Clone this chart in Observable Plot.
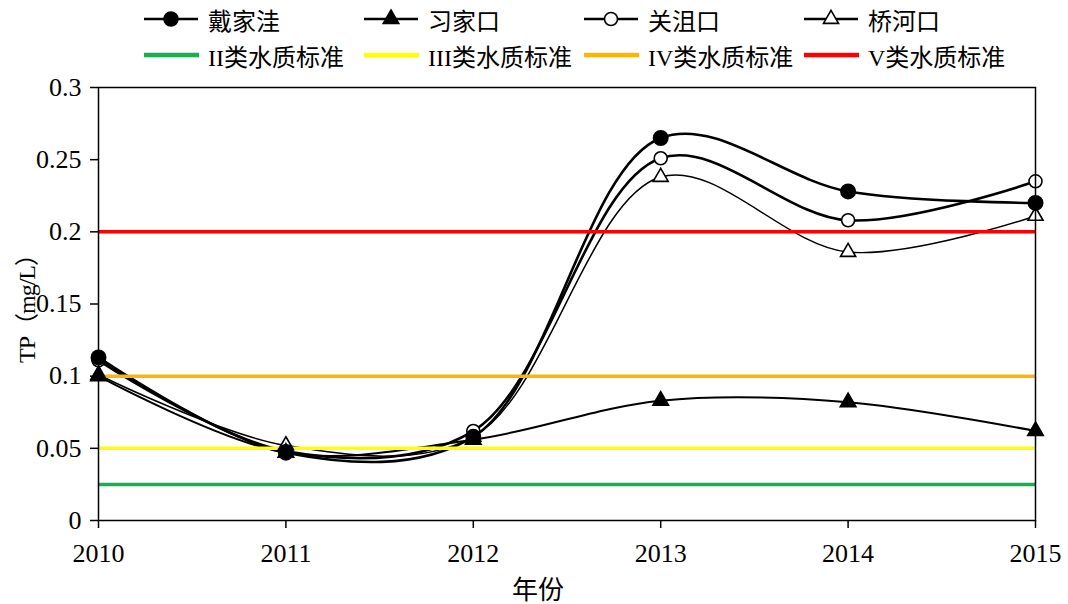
<!DOCTYPE html>
<html><head><meta charset="utf-8">
<script src="https://cdn.jsdelivr.net/npm/d3@7"></script>
<script src="https://cdn.jsdelivr.net/npm/@observablehq/plot@0.6"></script>
<style>
body{margin:0;background:#fff;font-family:"Liberation Serif","Noto Sans CJK SC",serif;}
#wrap{position:relative;width:1068px;height:604px;overflow:hidden;}
#legend{position:relative;height:70px;width:1068px;}
.item{position:absolute;display:flex;align-items:center;font-size:24px;color:#000;height:30px;white-space:nowrap;}
.item svg{margin-right:8px;}
#chart svg text{font-size:26px !important;font-family:"Liberation Serif","Noto Sans CJK SC",serif !important;}
.axlabel{position:absolute;font-size:24px;color:#000;white-space:nowrap;line-height:1;}
</style></head>
<body><div id="wrap"><div id="legend"></div><div id="chart"></div>
<div class="axlabel" id="xlab"></div><div class="axlabel" id="ylab"></div></div>
<script>
const years = [2010, 2011, 2012, 2013, 2014, 2015];
const daijiawa = [0.113, 0.047, 0.058, 0.265, 0.228, 0.220];
const xijiakou = [0.100, 0.047, 0.056, 0.083, 0.082, 0.062];
const guanjukou = [0.111, 0.048, 0.062, 0.251, 0.208, 0.235];
const qiaohekou = [0.101, 0.052, 0.058, 0.238, 0.186, 0.211];
const seriesNames = ["戴家洼", "习家口", "关沮口", "桥河口"];
const standardNames = ["II类水质标准", "III类水质标准", "IV类水质标准", "V类水质标准"];
const standardValues = [0.025, 0.05, 0.1, 0.2];
const standardColors = ["#17b04f", "#ffff00", "#ffb400", "#ff0000"];
const yTicks = [0, 0.05, 0.1, 0.15, 0.2, 0.25, 0.3];
const yTickLabels = ["0", "0.05", "0.1", "0.15", "0.2", "0.25", "0.3"];
const xTitle = "年份";
const yTitle = "TP（mg/L）";

const seriesStyle = {
  "戴家洼": {symbol: "circle", fill: "black", r: 7.2, sw: 2.6},
  "习家口": {symbol: "triangle", fill: "black", r: 5.8, sw: 2},
  "关沮口": {symbol: "circle", fill: "white", r: 6.5, sw: 2.6},
  "桥河口": {symbol: "triangle", fill: "white", r: 5.6, sw: 1.5}
};
const allValues = [daijiawa, xijiakou, guanjukou, qiaohekou];
const rows = [];
seriesNames.forEach((s, i) => years.forEach((y, j) => rows.push({series: s, year: y, tp: allValues[i][j]})));
const stdRows = standardNames.map((n, i) => ({name: n, value: standardValues[i], color: standardColors[i]}));
const drawOrder = seriesNames.slice().reverse();

const marks = [];
drawOrder.forEach(s => {
  const st = seriesStyle[s];
  marks.push(Plot.line(rows.filter(d => d.series === s), {x: "year", y: "tp", stroke: "black", strokeWidth: st.sw, curve: "catmull-rom"}));
});
marks.push(Plot.ruleY(stdRows, {y: "value", stroke: "color", strokeWidth: 3.5}));
drawOrder.forEach(s => {
  const st = seriesStyle[s];
  marks.push(Plot.dot(rows.filter(d => d.series === s), {x: "year", y: "tp", symbol: () => st.symbol, fill: st.fill, stroke: "black", strokeWidth: 1.6, r: st.r}));
});
marks.push(Plot.frame({stroke: "black", strokeWidth: 1.5}));
marks.push(Plot.axisY({ticks: yTicks, tickFormat: (d) => yTickLabels[yTicks.indexOf(d)], tickSize: 8, tickPadding: 9, label: null}));
marks.push(Plot.axisX({ticks: years, tickFormat: d => String(d), tickSize: 8, tickPadding: 15, label: null}));

const chart = Plot.plot({
  width: 1068, height: 534,
  marginTop: 17, marginBottom: 84, marginLeft: 98, marginRight: 33,
  style: {fontFamily: '"Liberation Serif","Noto Sans CJK SC",serif', fontSize: "26px", color: "black", background: "white"},
  x: {domain: [2010, 2015]},
  y: {domain: [0, 0.3]},
  symbol: {type: "identity"},
  color: {type: "identity"},
  marks
});
chart.querySelectorAll("g[aria-label]").forEach(g => {
  const a = g.getAttribute("aria-label");
  if (a.endsWith("axis tick")) g.setAttribute("stroke-width", 1.5);
});
document.getElementById("chart").appendChild(chart);

// axis titles
const xl = document.getElementById("xlab");
xl.textContent = xTitle; xl.style.left = "512px"; xl.style.top = "578px"; xl.style.fontSize = "26px";
const yl = document.getElementById("ylab");
yl.textContent = yTitle;
yl.style.left = "27px"; yl.style.top = "303px";
yl.style.transform = "translate(-50%,-50%) rotate(-90deg)";
yl.style.letterSpacing = "-1px";

// legend
const legend = document.getElementById("legend");
const xs = [144, 364, 584, 804];
function symSvg(kind, fill, color) {
  let shape = "";
  if (kind === "circle") shape = `<circle cx="27" cy="15" r="${fill === 'black' ? 7 : 6.5}" fill="${fill}" stroke="black" stroke-width="1.6"/>`;
  else if (kind === "triangle") shape = `<path d="${d3.symbol(d3.symbolTriangle, fill === 'black' ? 105 : 98)()}" transform="translate(27,15)" fill="${fill}" stroke="black" stroke-width="1.6"/>`;
  const line = color ? `<line x1="0" x2="55" y1="15" y2="15" stroke="${color}" stroke-width="4.5"/>` : `<line x1="0" x2="54" y1="15" y2="15" stroke="black" stroke-width="2.5"/>`;
  return `<svg width="56" height="30">${line}${shape}</svg>`;
}
seriesNames.forEach((s, i) => {
  const st = seriesStyle[s];
  const d = document.createElement("div");
  d.className = "item"; d.style.left = xs[i] + "px"; d.style.top = "4px";
  d.innerHTML = symSvg(st.symbol, st.fill, null) + `<span>${s}</span>`;
  legend.appendChild(d);
});
standardNames.forEach((s, i) => {
  const d = document.createElement("div");
  d.className = "item"; d.style.left = xs[i] + "px"; d.style.top = "40px";
  d.innerHTML = symSvg(null, null, standardColors[i]) + `<span>${s}</span>`;
  legend.appendChild(d);
});
</script></body></html>
